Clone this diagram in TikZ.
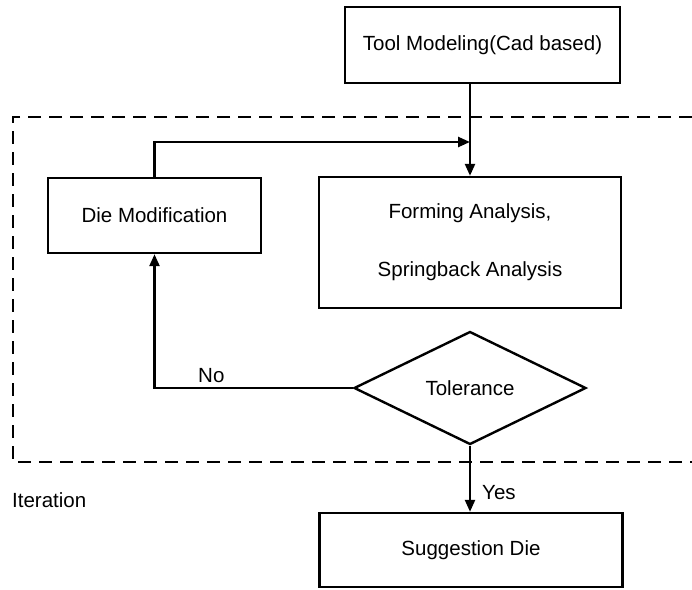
\documentclass[tikz,border=0pt]{standalone}
\usepackage{fontspec}
\setmainfont{Liberation Sans}
\usetikzlibrary{arrows.meta,shapes.geometric}
\begin{document}
\begin{tikzpicture}[x=1pt,y=-1pt,
  box/.style={draw,line width=2.4pt,rectangle,inner sep=0pt,font=\fontsize{20.5}{24}\selectfont,align=center},
  dec/.style={draw,line width=2.4pt,diamond,inner sep=0pt,minimum width=232pt,minimum height=113pt,font=\fontsize{20.5}{24}\selectfont},
  arr/.style={line width=2.4pt,-{Triangle[length=12pt,width=10pt]}},
  lbl/.style={font=\fontsize{20.5}{24}\selectfont,inner sep=0pt},
  frame/.style={line width=2.6pt,dash pattern=on 13pt off 8pt}]
\useasboundingbox (0,0) rectangle (692,589);
\node[box,minimum width=275pt,minimum height=76pt] (tool) at (482.5,45) {Tool Modeling(Cad based)};
\node[box,minimum width=213pt,minimum height=75pt] (die) at (154.5,215.5) {Die Modification};
\node[box,minimum width=302pt,minimum height=131pt] (form) at (470,242.5) {Forming Analysis,\\[34pt]Springback Analysis};
\node[dec] (tol) at (470,388) {Tolerance};
\node[box,minimum width=303pt,minimum height=74pt] (sug) at (471,550) {Suggestion Die};
\coordinate (j) at (470,142);
\coordinate (nc) at (154.5,388);
\draw[frame] (692,117) -- (13,117) -- (13,462) -- (692,462);
\draw[arr] (tool.south -| j) -- (form.north -| j);
\draw[arr] (die.north) |- (j);
\draw[arr] (tol.west) -- (nc) -- (die.south);
\draw[arr] (tol.south) -- (tol.south |- sug.north);
\node[lbl,anchor=west] (no) at (198,376) {No};
\node[lbl,anchor=west] (yes) at (482,493) {Yes};
\node[lbl,anchor=west] (it) at (12,500) {Iteration};
\end{tikzpicture}
\end{document}
